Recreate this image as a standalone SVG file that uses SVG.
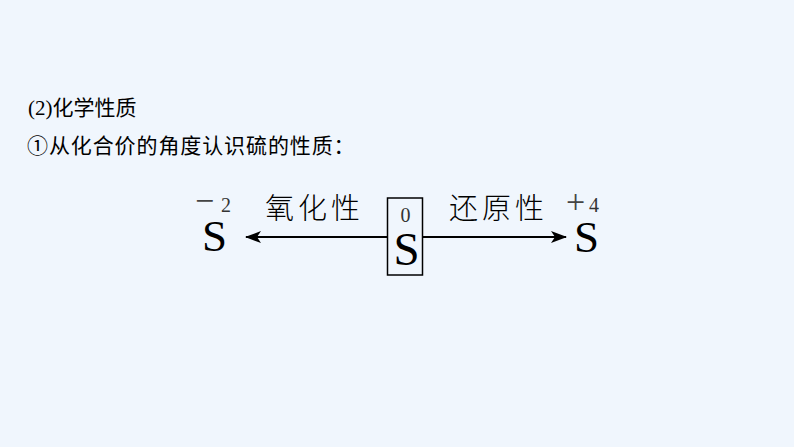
<svg xmlns="http://www.w3.org/2000/svg" width="794" height="447" viewBox="0 0 794 447">
<defs>
<style>
.head{font-family:"Liberation Serif","Noto Sans CJK SC",serif;font-size:21px;fill:#000}
.cjk{font-family:"Noto Sans CJK SC",sans-serif}
.lbl{font-family:"Noto Sans CJK SC",sans-serif;font-size:29px;font-weight:300;letter-spacing:4px;fill:#000}
.el{font-family:"Liberation Serif",serif;font-size:45px;fill:#000;text-anchor:middle}
.sup{font-family:"Liberation Serif",serif;font-size:20px;fill:#333}
.sgn{font-family:"Liberation Serif",serif;font-size:34px;fill:#444}
.conn{stroke:#000;stroke-width:2;fill:none}
</style>
<marker id="arr" viewBox="0 0 16 12" refX="15" refY="6" markerWidth="16" markerHeight="12" markerUnits="userSpaceOnUse" orient="auto">
<path d="M0,0 L16,6 L0,12 L4,6 Z" fill="#000"/>
</marker>
</defs>
<rect x="0" y="0" width="794" height="447" fill="#F0F6FD"/>
<g id="title">
<text class="head" x="28" y="115">(2)<tspan class="cjk">化学性质</tspan></text>
<text class="head cjk" x="27" y="153" style="letter-spacing:0.9px">①从化合价的角度认识硫的性质：</text>
</g>
<g id="connectors">
<line class="conn" x1="387" y1="237" x2="246" y2="237" marker-end="url(#arr)"/>
<line class="conn" x1="423" y1="237" x2="566" y2="237" marker-end="url(#arr)"/>
<text class="lbl" x="265" y="219">氧化性</text>
<text class="lbl" x="449" y="219">还原性</text>
</g>
<g id="node-s-minus2">
<text class="sgn" x="195" y="212">−</text>
<text class="sup" x="221" y="212">2</text>
<text class="el" x="214.5" y="251">S</text>
</g>
<g id="node-s-0">
<rect x="387.5" y="198" width="35" height="77" fill="none" stroke="#000" stroke-width="1.5"/>
<text class="sup" x="405.5" y="222" text-anchor="middle">0</text>
<text class="el" x="406.5" y="265" style="font-size:47px">S</text>
</g>
<g id="node-s-plus4">
<text class="sgn" x="566" y="213">+</text>
<text class="sup" x="589" y="212">4</text>
<text class="el" x="586.5" y="252">S</text>
</g>
</svg>
